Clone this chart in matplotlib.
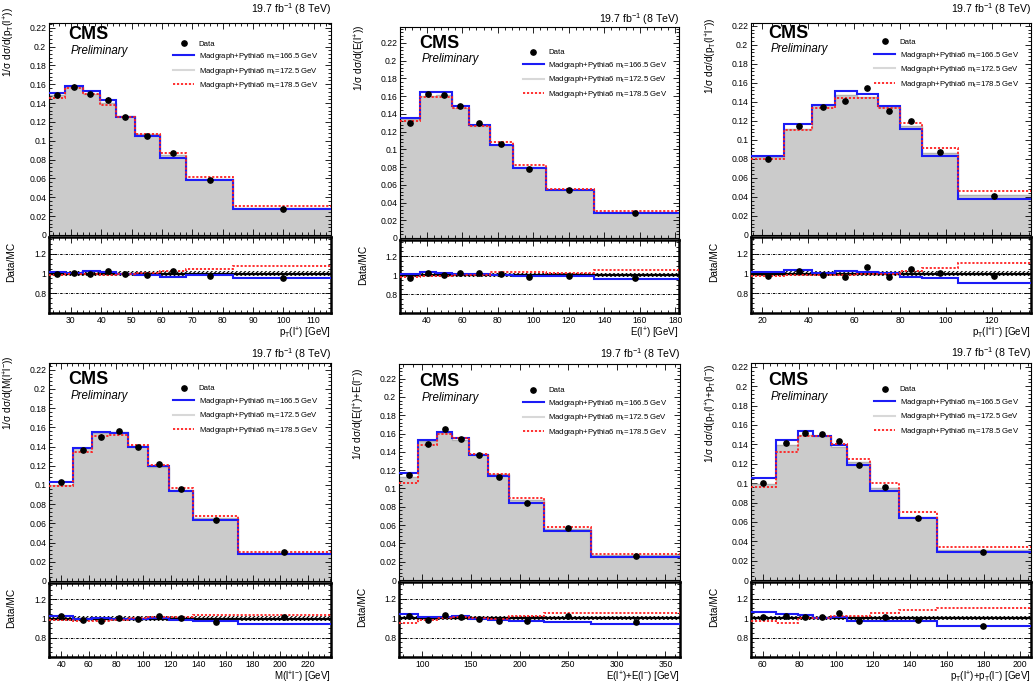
import numpy as np
import matplotlib
matplotlib.use("Agg")
import matplotlib.pyplot as plt
from matplotlib.lines import Line2D
from matplotlib.ticker import MultipleLocator, AutoMinorLocator, FormatStrFormatter, FixedLocator

# ---- values ----
# panel 1: pT(l+)
edges1 = [22.8, 28, 34, 39.5, 45, 51, 59.5, 68, 83.5, 115.7]
x1 = [25.6, 30.9, 36.4, 42.1, 48.0, 55.1, 63.7, 76.0, 99.8]
data1 = [0.1487, 0.1575, 0.1497, 0.1438, 0.1250, 0.1054, 0.0865, 0.0580, 0.0278]
m166_1 = [0.1504, 0.1580, 0.1532, 0.1434, 0.1250, 0.1047, 0.0815, 0.0583, 0.0278]
m172_1 = [0.1487, 0.1570, 0.1501, 0.1406, 0.1259, 0.1068, 0.0846, 0.0594, 0.0291]
m178_1 = [0.1459, 0.1560, 0.1497, 0.1385, 0.1250, 0.1076, 0.0865, 0.0619, 0.0312]

# panel 2: E(l+)
edges2 = [25, 36, 45.5, 54.5, 64, 75.5, 88.5, 107, 134, 182]
x2 = [30.7, 41.0, 49.7, 59.0, 69.5, 82.0, 97.8, 120.2, 157.5]
data2 = [0.1297, 0.1628, 0.1613, 0.1492, 0.1297, 0.1060, 0.0778, 0.0538, 0.0282]
m166_2 = [0.1353, 0.1647, 0.1647, 0.1485, 0.1278, 0.1045, 0.0790, 0.0538, 0.0281]
m172_2 = [0.1343, 0.1601, 0.1608, 0.1467, 0.1267, 0.1045, 0.0797, 0.0542, 0.0292]
m178_2 = [0.1316, 0.1590, 0.1590, 0.1466, 0.1267, 0.1079, 0.0820, 0.0556, 0.0307]

# panel 3: pT(l+l-)
edges3 = [15, 29.5, 41.5, 51.5, 61, 70.5, 80, 89.5, 105, 137]
x3 = [22.5, 36.0, 46.5, 56.0, 65.4, 75.2, 84.9, 97.4, 121.0]
data3 = [0.0796, 0.1146, 0.1349, 0.1414, 0.1548, 0.1300, 0.1200, 0.0872, 0.0405]
m166_3 = [0.0830, 0.1163, 0.1370, 0.1510, 0.1480, 0.1356, 0.1110, 0.0827, 0.0377]
m172_3 = [0.0818, 0.1120, 0.1367, 0.1468, 0.1451, 0.1350, 0.1150, 0.0866, 0.0416]
m178_3 = [0.0795, 0.1100, 0.1340, 0.1445, 0.1445, 0.1338, 0.1180, 0.0913, 0.0460]

# panel 4: M(l+l-)
edges4 = [31, 48.5, 62.5, 75.5, 89, 103, 118.5, 136.5, 169, 237]
x4 = [40.0, 56.0, 69.2, 82.0, 96.0, 111.0, 127.7, 153.0, 202.5]
data4 = [0.1027, 0.1364, 0.1504, 0.1560, 0.1400, 0.1218, 0.0954, 0.0633, 0.0300]
m166_4 = [0.1027, 0.1385, 0.1556, 0.1542, 0.1400, 0.1200, 0.0940, 0.0637, 0.0278]
m172_4 = [0.1000, 0.1388, 0.1546, 0.1549, 0.1404, 0.1190, 0.0951, 0.0653, 0.0295]
m178_4 = [0.0985, 0.1347, 0.1514, 0.1525, 0.1417, 0.1204, 0.0968, 0.0679, 0.0306]

# panel 5: E(l+)+E(l-)
edges5 = [76, 95.5, 115, 131, 148, 168, 189, 225, 273, 365]
x5 = [86.0, 106.2, 123.4, 139.3, 157.9, 178.6, 207.2, 249.3, 320.0]
data5 = [0.1142, 0.1488, 0.1650, 0.1540, 0.1363, 0.1130, 0.0846, 0.0563, 0.0261]
m166_5 = [0.1168, 0.1529, 0.1613, 0.1555, 0.1363, 0.1135, 0.0846, 0.0534, 0.0254]
m172_5 = [0.1123, 0.1518, 0.1602, 0.1529, 0.1373, 0.1161, 0.0875, 0.0554, 0.0271]
m178_5 = [0.1061, 0.1480, 0.1595, 0.1547, 0.1374, 0.1153, 0.0895, 0.0582, 0.0284]

# panel 6: pT(l+)+pT(l-)
edges6 = [53.7, 67.5, 79, 87.5, 97, 106, 118.5, 134, 154.5, 205.8]
x6 = [60.2, 72.8, 83.3, 92.3, 101.7, 112.2, 126.3, 144.4, 179.9]
data6 = [0.0997, 0.1416, 0.1513, 0.1506, 0.1437, 0.1186, 0.0963, 0.0643, 0.0285]
m166_6 = [0.1048, 0.1444, 0.1540, 0.1488, 0.1392, 0.1186, 0.0918, 0.0636, 0.0285]
m172_6 = [0.0990, 0.1392, 0.1492, 0.1491, 0.1373, 0.1219, 0.0950, 0.0654, 0.0312]
m178_6 = [0.0956, 0.1323, 0.1485, 0.1485, 0.1399, 0.1248, 0.0997, 0.0705, 0.0344]

data_rel_err = 0.015
mc_unc = [0.03, 0.025, 0.025, 0.025, 0.025, 0.025]
y_tops = [0.225, 0.238, 0.223, 0.227, 0.236, 0.224]
x_major = [10, 20, 20, 20, 50, 20]

ylabels = [
    r"1/σ dσ/d(p$_{\mathregular{T}}$(l$^{\mathregular{+}}$))",
    r"1/σ dσ/d(E(l$^{\mathregular{+}}$))",
    r"1/σ dσ/d(p$_{\mathregular{T}}$(l$^{\mathregular{+}}$l$^{\mathregular{-}}$))",
    r"1/σ dσ/d(M(l$^{\mathregular{+}}$l$^{\mathregular{-}}$))",
    r"1/σ dσ/d(E(l$^{\mathregular{+}}$)+E(l$^{\mathregular{-}}$))",
    r"1/σ dσ/d(p$_{\mathregular{T}}$(l$^{\mathregular{+}}$)+p$_{\mathregular{T}}$(l$^{\mathregular{-}}$))",
]
xlabels = [
    r"p$_{\mathregular{T}}$(l$^{\mathregular{+}}$) [GeV]",
    r"E(l$^{\mathregular{+}}$) [GeV]",
    r"p$_{\mathregular{T}}$(l$^{\mathregular{+}}$l$^{\mathregular{-}}$) [GeV]",
    r"M(l$^{\mathregular{+}}$l$^{\mathregular{-}}$) [GeV]",
    r"E(l$^{\mathregular{+}}$)+E(l$^{\mathregular{-}}$) [GeV]",
    r"p$_{\mathregular{T}}$(l$^{\mathregular{+}}$)+p$_{\mathregular{T}}$(l$^{\mathregular{-}}$) [GeV]",
]
legend_labels = [
    "Data",
    r"Madgraph+Pythia6 m$_{\mathregular{t}}$=166.5 GeV",
    r"Madgraph+Pythia6 m$_{\mathregular{t}}$=172.5 GeV",
    r"Madgraph+Pythia6 m$_{\mathregular{t}}$=178.5 GeV",
]
lumi = r"19.7 fb$^{\mathregular{-1}}$ (8 TeV)"

panels = [
    (edges1, x1, data1, m166_1, m172_1, m178_1),
    (edges2, x2, data2, m166_2, m172_2, m178_2),
    (edges3, x3, data3, m166_3, m172_3, m178_3),
    (edges4, x4, data4, m166_4, m172_4, m178_4),
    (edges5, x5, data5, m166_5, m172_5, m178_5),
    (edges6, x6, data6, m166_6, m172_6, m178_6),
]

plt.rcParams.update({
    "font.family": ["Liberation Sans", "DejaVu Sans"],
    "mathtext.fontset": "custom",
    "mathtext.rm": "Liberation Sans",
    "mathtext.it": "Liberation Sans:italic",
    "mathtext.bf": "Liberation Sans:bold",
    "hatch.linewidth": 0.8,
})

BLUE = "#1c1cf5"
RED = "#ff2020"
GRAY_FILL = "#cbcbcb"
GRAY_LINE = "#b2b2b2"
RED_LS = (0, (1.2, 1.0))
GRID_LS = (0, (2.5, 1.2, 0.6, 1.2))

W, H = 1033, 686
# pixel boxes: left, right, main top, main bottom, ratio bottom
boxes = [
    (49, 331, 23, 235, 313),
    (400, 679, 27, 238, 313),
    (751, 1031, 23, 235, 313),
    (49, 331, 363, 581, 657),
    (399, 680, 364, 580, 657),
    (751, 1031, 363, 580, 657),
]
ylabel_top_px = [7, 25, 17, 355, 367, 363]
cms_y = [0.923, 0.90, 0.93, 0.904, 0.898, 0.899]
cms_x = [0.067, 0.068, 0.061, 0.067, 0.071, 0.061]
lumi_off = [10, 4, 10, 5, 6, 6]


def rect(l, r, t, b):
    return [l / W, 1 - b / H, (r - l) / W, (b - t) / H]


fig = plt.figure(figsize=(W / 100, H / 100), dpi=100)

for i, (edges, xc, data, m166, m172, m178) in enumerate(panels):
    l, r, t, b, rb = boxes[i]
    ax = fig.add_axes(rect(l, r, t, b))
    rx = fig.add_axes(rect(l, r, b + 2, rb), sharex=ax)
    data_a = np.array(data)

    # main panel
    ax.stairs(m172, edges, fill=True, color=GRAY_FILL, zorder=1)
    ax.stairs(m172, edges, baseline=None, color=GRAY_LINE, lw=1.0, zorder=2)
    ax.stairs(m166, edges, baseline=None, color=BLUE, lw=1.5, zorder=3)
    ax.stairs(m178, edges, baseline=None, color=RED, lw=1.3, ls=RED_LS, zorder=4)
    ax.errorbar(xc, data_a, yerr=data_a * data_rel_err, fmt="o", color="k", ms=3.8,
                elinewidth=0.8, capsize=0, zorder=5)

    ax.set_xlim(edges[0], edges[-1])
    ax.set_ylim(0, y_tops[i])
    ax.yaxis.set_major_locator(MultipleLocator(0.02))
    ax.yaxis.set_minor_locator(AutoMinorLocator(5))
    ax.yaxis.set_major_formatter(FormatStrFormatter("%g"))
    ax.xaxis.set_major_locator(MultipleLocator(x_major[i]))
    ax.xaxis.set_minor_locator(AutoMinorLocator(5))
    ax.tick_params(which="both", direction="in", top=True, right=True,
                   labelbottom=False, labelsize=6.2, pad=2, width=0.6)
    ax.tick_params(which="major", length=4)
    ax.tick_params(which="minor", length=2)
    for s in ax.spines.values():
        s.set_linewidth(0.8)

    ax.set_ylabel(ylabels[i], fontsize=7.3, loc="top")
    ax.yaxis.set_label_coords(-0.115, 1 + (t - ylabel_top_px[i]) / (b - t))

    ax.text(cms_x[i], cms_y[i], "CMS", transform=ax.transAxes,
            fontsize=13, fontweight="bold", va="baseline")
    ax.text(cms_x[i] + 0.008, cms_y[i] - 0.068, "Preliminary", transform=ax.transAxes,
            fontsize=8.3, style="italic", va="baseline")
    ax.annotate(lumi, xy=(1, 1), xycoords="axes fraction",
                xytext=(0, lumi_off[i] * 0.72), textcoords="offset points",
                ha="right", va="baseline", fontsize=7.6)

    handles = [
        Line2D([], [], marker="o", ls="none", color="k", ms=3.8),
        Line2D([], [], color=BLUE, lw=1.5),
        Line2D([], [], color="#d8d8d8", lw=1.5),
        Line2D([], [], color=RED, lw=1.3, ls=RED_LS),
    ]
    ax.legend(handles, legend_labels, loc="upper left",
              bbox_to_anchor=(0.44, cms_y[i] - 0.004), frameon=False,
              fontsize=5.6, handlelength=2.7, handletextpad=0.6,
              labelspacing=0.45, borderpad=0, borderaxespad=0)

    # ratio panel
    m172a = np.array(m172)
    r_data = data_a / m172a
    r166 = np.array(m166) / m172a
    r178 = np.array(m178) / m172a
    u = mc_unc[i]
    rx.fill_between([edges[0], edges[-1]], 1 - u, 1 + u, facecolor="none",
                    edgecolor="k", hatch="////////", lw=0, zorder=1)
    for yv in (0.8, 1.2):
        rx.axhline(yv, color="k", lw=0.7, ls=GRID_LS, zorder=1)
    rx.axhline(1, color="k", lw=1.6, zorder=2)
    rx.stairs(r166, edges, baseline=None, color=BLUE, lw=1.5, zorder=3)
    rx.stairs(r178, edges, baseline=None, color=RED, lw=1.3, ls=RED_LS, zorder=4)
    rx.errorbar(xc, r_data, yerr=r_data * data_rel_err, fmt="o", color="k", ms=3.8,
                elinewidth=0.8, capsize=0, zorder=5)

    rx.set_ylim(0.6, 1.37)
    rx.yaxis.set_major_locator(FixedLocator([0.8, 1.0, 1.2]))
    rx.yaxis.set_minor_locator(FixedLocator(np.arange(0.65, 1.37, 0.05)))
    rx.yaxis.set_major_formatter(FormatStrFormatter("%g"))
    rx.tick_params(which="both", direction="in", top=True, right=True,
                   labelsize=6.2, pad=2, width=0.6)
    rx.tick_params(which="major", length=4)
    rx.tick_params(which="minor", length=2)
    for s in rx.spines.values():
        s.set_linewidth(1.8)
    rx.set_ylabel("Data/MC", fontsize=7.3, loc="top")
    rx.yaxis.set_label_coords(-0.115, 0.93)
    rx.set_xlabel(xlabels[i], fontsize=7, loc="right", labelpad=1)

fig.savefig("out.png", dpi=100)
